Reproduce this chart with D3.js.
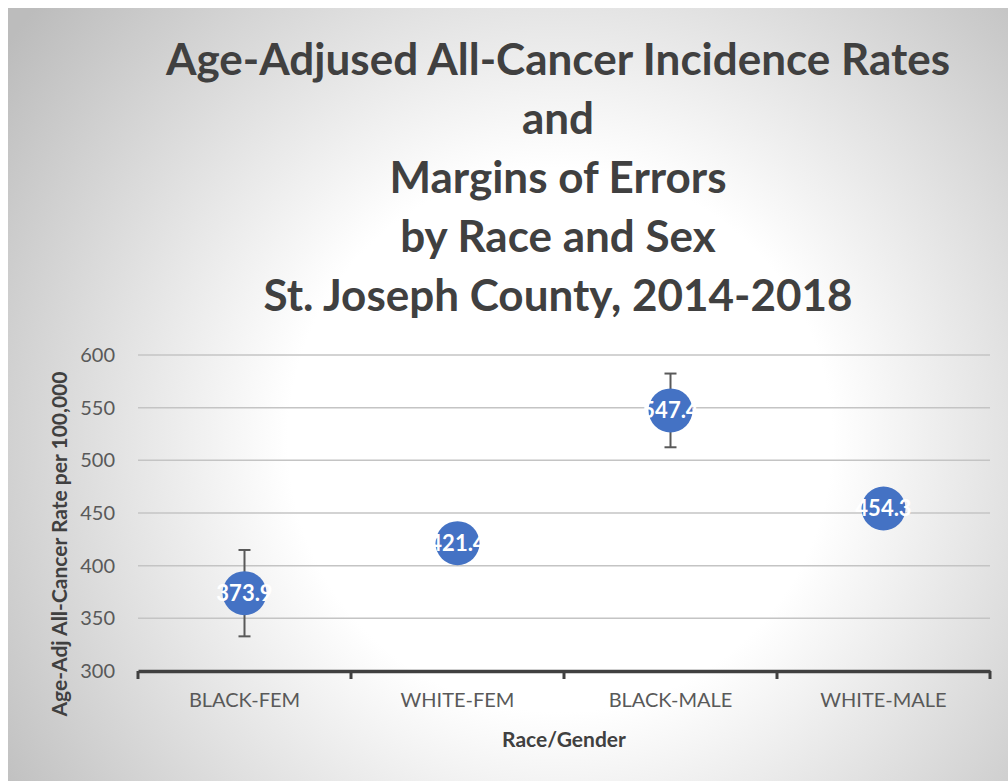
<!DOCTYPE html>
<html>
<head>
<meta charset="utf-8">
<script src="https://cdn.jsdelivr.net/npm/d3@7"></script>
<style>
  body { margin: 0; background: #fff; }
  text { font-family: Lato, "Open Sans", sans-serif; }
</style>
</head>
<body>
<div id="chart"></div>
<script>
// Chart data
const groups = ["BLACK-FEM", "WHITE-FEM", "BLACK-MALE", "WHITE-MALE"];
const rates = [373.9, 421.4, 547.4, 454.3];
// margins of error (white groups are hidden behind the markers)
const moe = [41, 15, 35, 15];
const yTicks = [300, 350, 400, 450, 500, 550, 600];
const titleLines = [
  "Age-Adjused All-Cancer Incidence Rates",
  "and",
  "Margins of Errors",
  "by Race and Sex",
  "St. Joseph County, 2014-2018"
];

const W = 1008, H = 781;
const plot = { left: 138, right: 990, top: 355, bottom: 671 };

const svg = d3.select("#chart")
  .append("svg")
  .attr("width", W)
  .attr("height", H);

// Background gradient
const grad = svg.append("defs")
  .append("radialGradient")
  .attr("id", "bg")
  .attr("gradientUnits", "userSpaceOnUse")
  .attr("cx", 560).attr("cy", 440).attr("r", 680);
grad.append("stop").attr("offset", 0).attr("stop-color", "#ffffff");
grad.append("stop").attr("offset", 0.4).attr("stop-color", "#ffffff");
grad.append("stop").attr("offset", 1).attr("stop-color", "#bcbcbc");

svg.append("rect")
  .attr("x", 8).attr("y", 8)
  .attr("width", W - 8).attr("height", H - 8)
  .attr("fill", "url(#bg)");

// Scales
const x = d3.scaleBand()
  .domain(groups)
  .range([plot.left, plot.right]);

const y = d3.scaleLinear()
  .domain([300, 600])
  .range([plot.bottom, plot.top]);

// Gridlines
svg.append("g")
  .selectAll("line")
  .data(yTicks.filter(d => d > 300))
  .join("line")
  .attr("x1", plot.left)
  .attr("x2", plot.right)
  .attr("y1", d => y(d))
  .attr("y2", d => y(d))
  .attr("stroke", "#c4c4c4")
  .attr("stroke-width", 1.5);

// Y axis tick labels
const yAxis = svg.append("g")
  .attr("transform", `translate(${plot.left},0)`)
  .call(d3.axisLeft(y).tickValues(yTicks).tickSize(0).tickPadding(23));
yAxis.select(".domain").remove();
yAxis.selectAll("text")
  .attr("font-size", 20)
  .attr("fill", "#595959")
  .style("font-family", "Lato, sans-serif");

// X axis
const xAxis = svg.append("g")
  .attr("transform", `translate(0,${plot.bottom})`)
  .call(d3.axisBottom(x).tickSizeInner(0).tickSizeOuter(0).tickPadding(22));
xAxis.select(".domain")
  .attr("stroke", "#404040")
  .attr("stroke-width", 3.5);
xAxis.selectAll("text")
  .attr("font-size", 20)
  .attr("fill", "#595959")
  .style("font-family", "Lato, sans-serif");

// category boundary ticks
const bounds = groups.map(g => x(g)).concat([plot.right]);
svg.append("g")
  .selectAll("line")
  .data(bounds)
  .join("line")
  .attr("x1", d => d).attr("x2", d => d)
  .attr("y1", plot.bottom)
  .attr("y2", plot.bottom + 8)
  .attr("stroke", "#404040")
  .attr("stroke-width", 3);

// Error bars
const cx = d => x(d) + x.bandwidth() / 2;
const eb = svg.append("g")
  .selectAll("g")
  .data(groups)
  .join("g")
  .attr("stroke", "#595959")
  .attr("stroke-width", 2);
eb.append("line")
  .attr("x1", d => cx(d)).attr("x2", d => cx(d))
  .attr("y1", (d, i) => y(rates[i] - moe[i]))
  .attr("y2", (d, i) => y(rates[i] + moe[i]));
eb.append("line")
  .attr("x1", d => cx(d) - 6).attr("x2", d => cx(d) + 6)
  .attr("y1", (d, i) => y(rates[i] + moe[i]))
  .attr("y2", (d, i) => y(rates[i] + moe[i]));
eb.append("line")
  .attr("x1", d => cx(d) - 6).attr("x2", d => cx(d) + 6)
  .attr("y1", (d, i) => y(rates[i] - moe[i]))
  .attr("y2", (d, i) => y(rates[i] - moe[i]));

// Points
svg.append("g")
  .selectAll("circle")
  .data(groups)
  .join("circle")
  .attr("cx", d => cx(d))
  .attr("cy", (d, i) => y(rates[i]))
  .attr("r", 22)
  .attr("fill", "#4472c4");

// Point labels
svg.append("g")
  .selectAll("text")
  .data(groups)
  .join("text")
  .attr("x", d => cx(d))
  .attr("y", (d, i) => y(rates[i]))
  .attr("dy", "0.36em")
  .attr("text-anchor", "middle")
  .attr("font-size", 22)
  .attr("font-weight", "bold")
  .attr("fill", "#ffffff")
  .text((d, i) => rates[i].toFixed(1));

// Title
svg.append("g")
  .selectAll("text")
  .data(titleLines)
  .join("text")
  .attr("x", 558)
  .attr("y", (d, i) => 75 + i * 59)
  .attr("text-anchor", "middle")
  .attr("font-size", 44)
  .attr("font-weight", "bold")
  .attr("fill", "#404040")
  .text(d => d);

// Axis titles
svg.append("text")
  .attr("transform", `translate(67,544) rotate(-90)`)
  .attr("text-anchor", "middle")
  .attr("font-size", 21)
  .attr("font-weight", "bold")
  .attr("fill", "#404040")
  .text("Age-Adj All-Cancer Rate per 100,000");

svg.append("text")
  .attr("x", 564)
  .attr("y", 747)
  .attr("text-anchor", "middle")
  .attr("font-size", 21)
  .attr("font-weight", "bold")
  .attr("fill", "#404040")
  .text("Race/Gender");
</script>
</body>
</html>
